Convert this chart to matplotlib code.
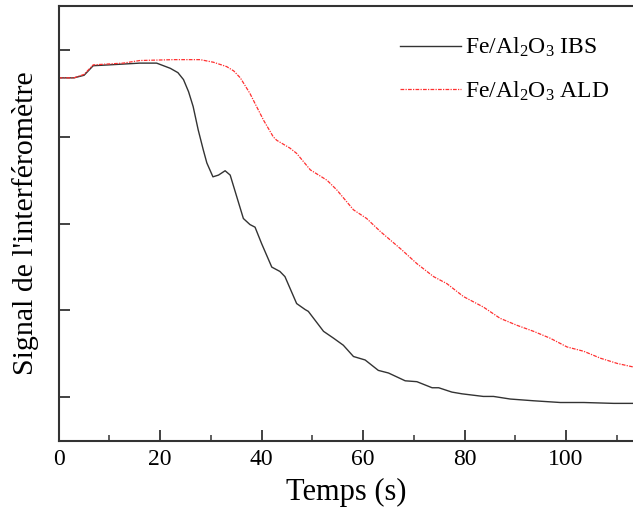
import matplotlib
matplotlib.use("Agg")
import matplotlib.pyplot as plt
from matplotlib.ticker import MultipleLocator

plt.rcParams['font.family'] = ['Liberation Serif', 'DejaVu Serif']
plt.rcParams['mathtext.fontset'] = 'custom'
plt.rcParams['mathtext.rm'] = 'Liberation Serif'
plt.rcParams['mathtext.it'] = 'Liberation Serif:italic'

# IBS curve (time in s, signal in arbitrary units)
ibs_t = [0, 3, 5, 6.8, 10, 16, 19.3, 22, 23.5, 24.6, 25.6, 26.5, 27.5, 28.5, 29.2, 30.4, 31.5,
         32.8, 33.8, 35.1, 36.4, 37.7, 38.7, 40, 42, 43.6, 44.6, 46.9, 48.6, 49.2,
         52.2, 54.2, 56.1, 58.1, 60.4, 63, 65, 68.3, 70.6, 73.6, 74.9, 77.5, 79.5,
         83.7, 85.7, 89, 93.6, 98.9, 103.5, 109.4, 113.2]
ibs_v = [3.68, 3.68, 3.71, 3.82, 3.83, 3.85, 3.85, 3.79, 3.74, 3.66, 3.52, 3.35, 3.08, 2.85, 2.70,
         2.54, 2.56, 2.61, 2.56, 2.31, 2.06, 1.99, 1.96, 1.77, 1.50, 1.45, 1.39, 1.08,
         1.01, 0.99, 0.76, 0.68, 0.60, 0.47, 0.43, 0.31, 0.28, 0.19, 0.18, 0.11, 0.11,
         0.06, 0.04, 0.01, 0.01, -0.02, -0.04, -0.06, -0.06, -0.07, -0.07]

# ALD curve
ald_t = [0, 3, 5, 6.8, 12.7, 16, 22.6, 27.9, 30.5, 33.1, 34.5, 35.8, 37.7, 39, 40.4, 42.3, 43,
         45.6, 46.9, 49.6, 52.9, 54.8, 58.1, 60.7, 63.4, 67.6, 70.6, 73.9, 76.5, 79.8,
         83.7, 87, 90.3, 93.6, 96.9, 100.2, 103.5, 106.8, 110.1, 113.2]
ald_v = [3.68, 3.68, 3.72, 3.83, 3.85, 3.88, 3.89, 3.89, 3.86, 3.81, 3.76, 3.68, 3.50, 3.35, 3.19,
         3.00, 2.96, 2.87, 2.81, 2.62, 2.50, 2.39, 2.16, 2.06, 1.91, 1.70, 1.54, 1.39,
         1.31, 1.16, 1.04, 0.91, 0.83, 0.76, 0.68, 0.58, 0.53, 0.45, 0.39, 0.35]

labels = [r'Fe/Al$_2$O$_3$ IBS', r'Fe/Al$_2$O$_3$ ALD']
xticks = [0, 20, 40, 60, 80, 100]
yticks = [0, 1, 2, 3, 4]

fig = plt.figure(figsize=(6.33, 5.11), dpi=100)
ax = fig.add_axes([58.7 / 633, 1 - 440.7 / 511, 1 - 58.7 / 633, (440.7 - 6) / 511])

ax.plot(ibs_t, ibs_v, color='#333333', lw=1.0, label=labels[0])
ax.plot(ald_t, ald_v, color='#ff3030', lw=0.9, linestyle=(0, (3, 1, 1, 1)), label=labels[1])

ax.set_xlim(0, 113.2)
ax.set_ylim(-0.5, 4.508)
ax.set_xticks(xticks)
ax.set_xticklabels([str(v) for v in xticks])
ax.xaxis.set_minor_locator(MultipleLocator(10))
ax.set_yticks(yticks)
ax.set_yticklabels([])

for s in ['left', 'bottom', 'top']:
    ax.spines[s].set_color('#333333')
    ax.spines[s].set_linewidth(1.5)
ax.spines['right'].set_visible(False)

ax.tick_params(axis='both', which='major', direction='in', length=8, width=1.3,
               color='#333333', labelsize=17, pad=6)
ax.tick_params(axis='both', which='minor', direction='in', length=4, width=1.1,
               color='#333333')
ax.tick_params(top=False, right=False, which='both')

ax.set_xlabel('Temps (s)', fontsize=22, labelpad=6)
ax.set_ylabel("Signal de l'interféromètre", fontsize=21.5, labelpad=8)

leg = ax.legend(loc='upper left', bbox_to_anchor=(400 / 633, 1 - 36 / 511),
                bbox_transform=fig.transFigure, frameon=False, fontsize=17,
                handlelength=2.6, handletextpad=0.15, labelspacing=0.85,
                borderaxespad=0, borderpad=0)

fig.savefig('out.png', dpi=100)
